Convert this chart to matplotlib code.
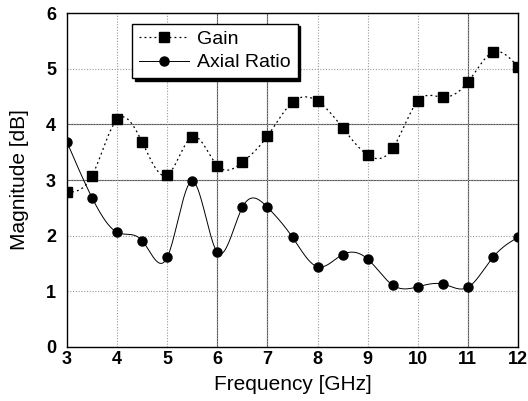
import numpy as np
import matplotlib
matplotlib.use("Agg")
import matplotlib.pyplot as plt

freq = [3, 3.5, 4, 4.5, 5, 5.5, 6, 6.5, 7, 7.5, 8, 8.5, 9, 9.5, 10, 10.5, 11, 11.5, 12]
gain = [2.78, 3.08, 4.09, 3.68, 3.09, 3.78, 3.26, 3.32, 3.79, 4.40, 4.42, 3.94, 3.45, 3.57, 4.42, 4.49, 4.76, 5.30, 5.04]
axial_ratio = [3.68, 2.68, 2.06, 1.91, 1.61, 2.98, 1.70, 2.51, 2.51, 1.97, 1.44, 1.66, 1.58, 1.11, 1.08, 1.13, 1.07, 1.61, 1.97]
xticks = [3, 4, 5, 6, 7, 8, 9, 10, 11, 12]
yticks = [0, 1, 2, 3, 4, 5, 6]


def smooth_curve(x, y, n=400):
    """Natural cubic spline through the data points (for drawing only)."""
    x = np.asarray(x, float)
    y = np.asarray(y, float)
    m = len(x)
    h = np.diff(x)
    A = np.zeros((m, m))
    b = np.zeros(m)
    A[0, 0] = A[-1, -1] = 1
    for i in range(1, m - 1):
        A[i, i - 1] = h[i - 1]
        A[i, i] = 2 * (h[i - 1] + h[i])
        A[i, i + 1] = h[i]
        b[i] = 6 * ((y[i + 1] - y[i]) / h[i] - (y[i] - y[i - 1]) / h[i - 1])
    M = np.linalg.solve(A, b)
    xs = np.linspace(x[0], x[-1], n)
    idx = np.clip(np.searchsorted(x, xs) - 1, 0, m - 2)
    xi, xi1 = x[idx], x[idx + 1]
    hi = xi1 - xi
    t1 = xi1 - xs
    t2 = xs - xi
    ys = (M[idx] * t1 ** 3 / (6 * hi) + M[idx + 1] * t2 ** 3 / (6 * hi)
          + (y[idx] / hi - M[idx] * hi / 6) * t1
          + (y[idx + 1] / hi - M[idx + 1] * hi / 6) * t2)
    return xs, ys


plt.rcParams['font.family'] = ['Liberation Sans', 'DejaVu Sans']

fig = plt.figure(figsize=(5.28, 4.01), dpi=100)
ax = fig.add_axes([0.127, 0.135, 0.854, 0.832])

ax.set_xlim(3, 12)
ax.set_ylim(0, 6)
ax.set_xticks(xticks)
ax.set_yticks(yticks)
ax.grid(True, linestyle=(0, (1, 1.5)), color='#999999', linewidth=0.8)
ax.set_axisbelow(True)
for xv in [6, 7, 11]:
    ax.axvline(xv, color='#555555', linewidth=0.8, zorder=0.5)
for yv in [3, 4]:
    ax.axhline(yv, color='#555555', linewidth=0.8, zorder=0.5)

xs, ys = smooth_curve(freq, gain)
ax.plot(xs, ys, color='black', linestyle=(0, (1.5, 2.5)), linewidth=0.9)
ax.plot(freq, gain, linestyle='none', marker='s', markersize=6.5, color='black')
xs2, ys2 = smooth_curve(freq, axial_ratio)
ax.plot(xs2, ys2, color='black', linestyle='-', linewidth=0.7)
ax.plot(freq, axial_ratio, linestyle='none', marker='o', markersize=6.5, color='black')

h1, = ax.plot([], [], color='black', linestyle=(0, (1.5, 2.5)), linewidth=0.9,
              marker='s', markersize=6.5)
h2, = ax.plot([], [], color='black', linestyle='-', linewidth=0.7,
              marker='o', markersize=6.5)
leg = ax.legend([h1, h2], ['Gain', 'Axial Ratio'], loc='upper left',
                bbox_to_anchor=(0.144, 0.969), borderaxespad=0,
                fancybox=False, edgecolor='black', framealpha=1,
                shadow={'color': 'black', 'alpha': 1},
                fontsize=14, handlelength=2.6, handletextpad=0.4,
                borderpad=0.35, labelspacing=0.3)
leg.get_frame().set_linewidth(1.0)

for lab in ax.get_xticklabels() + ax.get_yticklabels():
    lab.set_fontweight('bold')
    lab.set_fontsize(13)
ax.tick_params(axis='x', length=0, pad=3)
ax.tick_params(axis='y', length=0, pad=8)

ax.set_xlabel('Frequency [GHz]', fontsize=15, labelpad=5)
ax.set_ylabel('Magnitude [dB]', fontsize=15, labelpad=12)
for sp in ax.spines.values():
    sp.set_linewidth(1.0)

fig.savefig('out.png', dpi=100)
